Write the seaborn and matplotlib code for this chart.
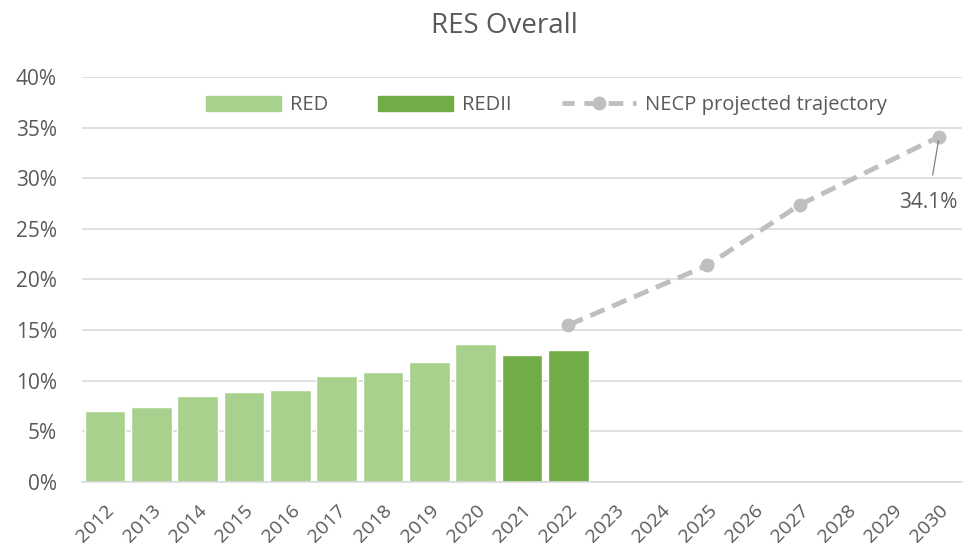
import pandas as pd
import seaborn as sns
import matplotlib.pyplot as plt
from matplotlib.patches import Patch
from matplotlib.lines import Line2D
from matplotlib.ticker import FuncFormatter

# Data
years = [str(y) for y in range(2012, 2031)]
bar_years = ["2012", "2013", "2014", "2015", "2016", "2017", "2018", "2019", "2020", "2021", "2022"]
bar_values = [7.0, 7.4, 8.5, 8.9, 9.1, 10.5, 10.9, 11.9, 13.6, 12.5, 13.0]
bar_series = ["RED"] * 9 + ["REDII"] * 2
necp_years = ["2022", "2025", "2027", "2030"]
necp_values = [15.5, 21.4, 27.4, 34.1]

light_green = "#a9d18e"
dark_green = "#70ad47"
line_grey = "#bfbfbf"
text_grey = "#595959"

sns.set_style("white")
plt.rcParams['font.family'] = ['Open Sans', 'DejaVu Sans']

bars_df = pd.DataFrame({"Year": bar_years, "Share": bar_values, "Series": bar_series})
# categorical position of each trajectory year on the bar axis
necp_df = pd.DataFrame({"Pos": [years.index(y) for y in necp_years], "Share": necp_values})

fig = plt.figure(figsize=(9.74, 5.54), dpi=100)
ax = fig.add_axes([0.084, 0.13, 0.904, 0.731])

sns.barplot(data=bars_df, x="Year", y="Share", hue="Series", order=years,
            palette={"RED": light_green, "REDII": dark_green}, dodge=False,
            saturation=1, width=0.88, legend=False, ax=ax, zorder=2)

sns.lineplot(data=necp_df, x="Pos", y="Share", color=line_grey, linewidth=3.5,
             marker="o", markersize=10, markeredgewidth=0, dashes=False, ax=ax, zorder=3)
for ln in ax.lines:
    ln.set_linestyle((0, (3.2, 1.7)))

ax.set_ylim(0, 40)
ax.set_xlim(-0.5, len(years) - 0.5)
ax.set_yticks(range(0, 41, 5))
ax.yaxis.set_major_formatter(FuncFormatter(lambda v, p: f"{int(v)}%"))
ax.grid(axis="y", color="#d9d9d9", linewidth=1.2, zorder=0)
ax.grid(axis="x", visible=False)
ax.set_axisbelow(True)
for s in ["left", "right", "top"]:
    ax.spines[s].set_visible(False)
ax.spines["bottom"].set_color("#d9d9d9")
ax.spines["bottom"].set_linewidth(1.2)

ax.set_xticks(range(len(years)))
ax.set_xticklabels(years, rotation=45, ha="right", rotation_mode="anchor",
                   fontsize=14, color=text_grey)
ax.set_xticks([i - 0.5 for i in range(len(years) + 1)], minor=True)
ax.tick_params(axis="x", which="major", length=0, pad=14)
ax.tick_params(axis="x", which="minor", length=5, color="#d9d9d9", width=1.2)
ax.tick_params(axis="y", length=0, labelsize=15, labelcolor=text_grey, pad=18)
ax.set_xlabel("")
ax.set_ylabel("")

ax.set_title("RES Overall", fontsize=20, color=text_grey, x=0.48, pad=32)

ax.annotate("34.1%", xy=(18, 34.1), xytext=(17.76, 27.6), fontsize=15, color=text_grey,
            ha="center", va="center",
            arrowprops=dict(arrowstyle="-", color="#808080", lw=0.9, shrinkA=10, shrinkB=3))

handles = [Patch(color=light_green, label="RED"),
           Patch(color=dark_green, label="REDII"),
           Line2D([0], [0], color=line_grey, linestyle=(0.5, (3, 2)), linewidth=3.5,
                  marker="o", markersize=10, markeredgewidth=0, label="NECP projected trajectory")]
ax.legend(handles=handles, loc="center", bbox_to_anchor=(0.528, 0.93), ncol=3,
          frameon=False, fontsize=14.5, labelcolor=text_grey, handlelength=3.7,
          handleheight=0.75, columnspacing=2.5, handletextpad=0.45)

plt.savefig("out.png", dpi=100)
plt.close()
